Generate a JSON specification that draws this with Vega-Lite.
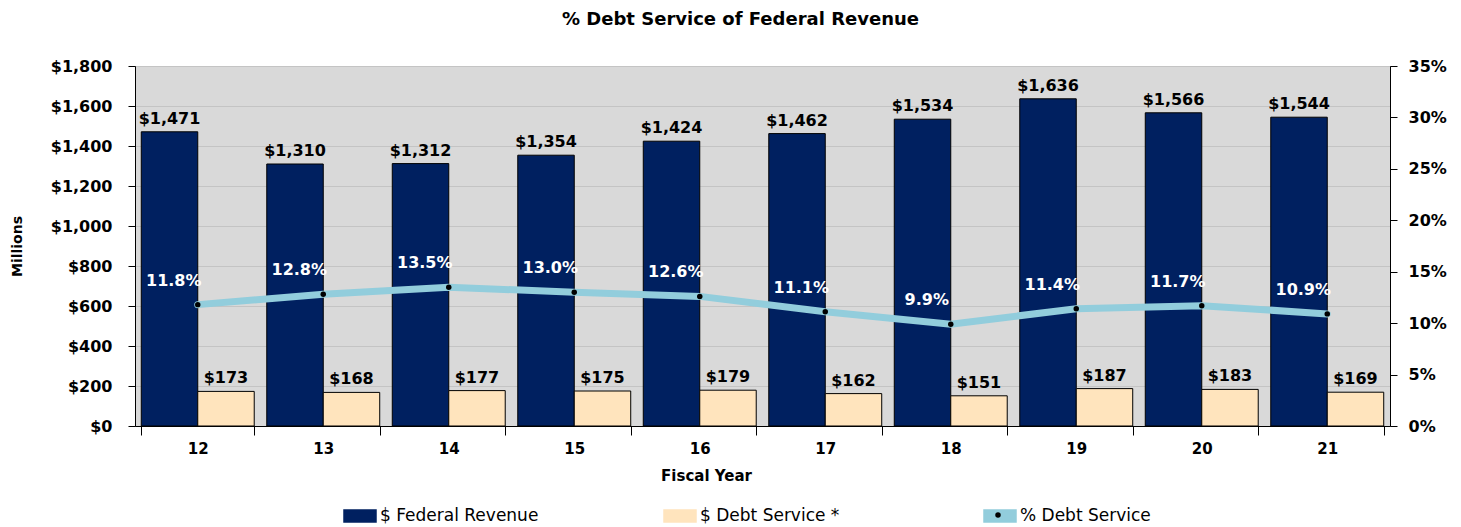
{
  "$schema": "https://vega.github.io/schema/vega-lite/v6.json",
  "width": 1255,
  "height": 360,
  "autosize": "none",
  "padding": {"left": 135, "top": 66, "right": 71, "bottom": 101},
  "background": "white",
  "title": {
    "text": "% Debt Service of Federal Revenue",
    "font": "DejaVu Sans",
    "fontSize": 18,
    "fontWeight": "bold",
    "color": "black",
    "anchor": "middle",
    "dx": -22,
    "offset": 29
  },
  "config": {
    "font": "DejaVu Sans",
    "view": {"fill": "#D9D9D9", "stroke": "#808080", "strokeWidth": 1},
    "axis": {
      "labelColor": "black",
      "labelFontWeight": "bold",
      "labelFontSize": 15,
      "titleColor": "black",
      "titleFontWeight": "bold",
      "titleFontSize": 15,
      "domainColor": "black",
      "tickColor": "black",
      "tickSize": 7,
      "labelOverlap": false
    }
  },
  "data": {
    "values": [
      {"year": "12", "series": "$ Federal Revenue", "value": 1471},
      {"year": "13", "series": "$ Federal Revenue", "value": 1310},
      {"year": "14", "series": "$ Federal Revenue", "value": 1312},
      {"year": "15", "series": "$ Federal Revenue", "value": 1354},
      {"year": "16", "series": "$ Federal Revenue", "value": 1424},
      {"year": "17", "series": "$ Federal Revenue", "value": 1462},
      {"year": "18", "series": "$ Federal Revenue", "value": 1534},
      {"year": "19", "series": "$ Federal Revenue", "value": 1636},
      {"year": "20", "series": "$ Federal Revenue", "value": 1566},
      {"year": "21", "series": "$ Federal Revenue", "value": 1544},
      {"year": "12", "series": "$ Debt Service *", "value": 173},
      {"year": "13", "series": "$ Debt Service *", "value": 168},
      {"year": "14", "series": "$ Debt Service *", "value": 177},
      {"year": "15", "series": "$ Debt Service *", "value": 175},
      {"year": "16", "series": "$ Debt Service *", "value": 179},
      {"year": "17", "series": "$ Debt Service *", "value": 162},
      {"year": "18", "series": "$ Debt Service *", "value": 151},
      {"year": "19", "series": "$ Debt Service *", "value": 187},
      {"year": "20", "series": "$ Debt Service *", "value": 183},
      {"year": "21", "series": "$ Debt Service *", "value": 169},
      {"year": "12", "series": "% Debt Service", "value": 0.118},
      {"year": "13", "series": "% Debt Service", "value": 0.128},
      {"year": "14", "series": "% Debt Service", "value": 0.135},
      {"year": "15", "series": "% Debt Service", "value": 0.130},
      {"year": "16", "series": "% Debt Service", "value": 0.126},
      {"year": "17", "series": "% Debt Service", "value": 0.111},
      {"year": "18", "series": "% Debt Service", "value": 0.099},
      {"year": "19", "series": "% Debt Service", "value": 0.114},
      {"year": "20", "series": "% Debt Service", "value": 0.117},
      {"year": "21", "series": "% Debt Service", "value": 0.109}
    ]
  },
  "encoding": {
    "x": {
      "field": "year",
      "type": "ordinal",
      "title": "Fiscal Year",
      "scale": {"paddingInner": 0.1, "paddingOuter": 0.05},
      "axis": {
        "labelAngle": 0,
        "tickBand": "extent",
        "tickSize": 9,
        "labelPadding": 6,
        "labelFontSize": 15,
        "titleX": 571,
        "titleY": 42,
        "titleAnchor": "middle",
        "titleAlign": "center",
        "titleBaseline": "top"
      }
    }
  },
  "layer": [
    {
      "transform": [{"filter": "datum.series !== '% Debt Service'"}],
      "encoding": {
        "xOffset": {"field": "series", "sort": ["$ Federal Revenue", "$ Debt Service *"]},
        "y": {
          "field": "value",
          "type": "quantitative",
          "title": "Millions",
          "scale": {"domain": [0, 1800], "nice": false},
          "axis": {
            "values": [0, 200, 400, 600, 800, 1000, 1200, 1400, 1600, 1800],
            "tickCount": 20,
            "format": "$,.0f",
            "labelFontSize": 16,
            "labelPadding": 16,
            "labelOverlap": false,
            "labelFlush": false,
            "grid": true,
            "gridColor": "#C4C4C4",
            "gridWidth": 1,
            "titleFontSize": 14,
            "titlePadding": 26
          }
        }
      },
      "layer": [
        {
          "mark": {"type": "bar", "stroke": "black", "strokeWidth": 1},
          "encoding": {
            "color": {
              "field": "series",
              "type": "nominal",
              "scale": {
                "domain": ["$ Federal Revenue", "$ Debt Service *", "% Debt Service"],
                "range": ["#002060", "#FFE4BD", "#92CDDC"]
              },
              "legend": {
                "orient": "none",
                "legendX": 208,
                "legendY": 433,
                "direction": "horizontal",
                "title": null,
                "padding": 0,
                "gridAlign": "all",
                "columnPadding": 122,
                "symbolSize": 1024,
                "symbolType": "M-1,-0.375H1V0.375H-1Z",
                "labelFontSize": 17,
                "labelColor": "black",
                "labelOffset": 3,
                "labelLimit": 0,
                "encode": {
                  "symbols": {
                    "update": {
                      "shape": {"signal": "datum.value === '% Debt Service' ? 'M-0.85,-0.2H0.85A0.2,0.2 0 0 1 0.85,0.2H-0.85A0.2,0.2 0 0 1 -0.85,-0.2Z' : 'M-1,-0.375H1V0.375H-1Z'"},
                      "fill": {"scale": "color", "field": "value"},
                      "stroke": {"signal": "datum.value === '% Debt Service' ? 'transparent' : 'black'"},
                      "strokeWidth": {"value": 1},
                      "opacity": {"value": 1},
                      "fillOpacity": {"value": 1}
                    }
                  }
                }
              }
            }
          }
        },
        {
          "mark": {"type": "text", "baseline": "bottom", "dy": -5, "fontSize": 16, "fontWeight": "bold", "color": "black"},
          "encoding": {
            "text": {"field": "value", "type": "quantitative", "format": "$,.0f"}
          }
        }
      ]
    },
    {
      "transform": [{"filter": "datum.series === '% Debt Service'"}],
      "encoding": {
        "y": {
          "field": "value",
          "type": "quantitative",
          "scale": {"domain": [0, 0.35], "nice": false},
          "axis": {
            "orient": "right",
            "title": null,
            "values": [0, 0.05, 0.1, 0.15, 0.2, 0.25, 0.3, 0.35],
            "tickCount": 20,
            "format": ".0%",
            "labelFontSize": 16,
            "labelPadding": 11,
            "labelOverlap": false,
            "grid": false
          }
        }
      },
      "layer": [
        {
          "mark": {"type": "line", "strokeWidth": 7, "strokeCap": "round"},
          "encoding": {
            "color": {"field": "series", "type": "nominal"}
          }
        },
        {
          "mark": {"type": "point", "filled": true, "color": "black", "size": 30, "opacity": 1},
          "encoding": {
            "shape": {
              "field": "series",
              "type": "nominal",
              "scale": {"range": ["circle"]},
              "legend": {
                "orient": "none",
                "legendX": 860,
                "legendY": 446,
                "title": null,
                "padding": 0,
                "symbolSize": 30,
                "symbolFillColor": "black",
                "symbolStrokeColor": "black",
                "symbolStrokeWidth": 0,
                "labelExpr": "''",
                "labelFontSize": 1,
                "labelOffset": 0,
                "encode": {
                  "symbols": {
                    "update": {
                      "fill": {"value": "black"},
                      "opacity": {"value": 1},
                      "fillOpacity": {"value": 1}
                    }
                  }
                }
              }
            }
          }
        },
        {
          "mark": {"type": "text", "baseline": "middle", "dx": -24, "dy": -24, "fontSize": 16, "fontWeight": "bold", "color": "white"},
          "encoding": {
            "text": {"field": "value", "type": "quantitative", "format": ".1%"}
          }
        }
      ]
    }
  ],
  "resolve": {"scale": {"y": "independent"}}
}
